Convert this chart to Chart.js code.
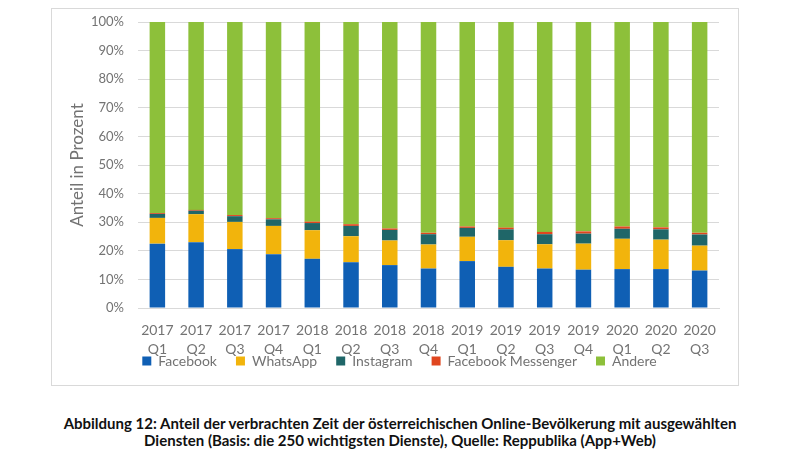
<!DOCTYPE html>
<html>
<head>
<meta charset="utf-8">
<script src="https://cdn.jsdelivr.net/npm/chart.js@4"></script>
<style>
    body { margin: 0; background: #fff; width: 800px; height: 452px; position: relative; overflow: hidden; }
    #box { position: absolute; left: 51px; top: 8px; width: 688px; height: 378px; border: 1px solid #d9d9d9; box-sizing: border-box; }
    #caption { position: absolute; left: 0; top: 415px; width: 800px; text-align: center;
        font-family: Lato, sans-serif; font-weight: bold; font-size: 15px; line-height: 17px; color: #111; }
</style>
</head>
<body>
<div id="box"><canvas id="chart" width="686" height="376"></canvas></div>
<div id="caption">Abbildung 12: Anteil der verbrachten Zeit der österreichischen Online-Bevölkerung mit ausgewählten<br>Diensten (Basis: die 250 wichtigsten Dienste), Quelle: Reppublika (App+Web)</div>

<script>
// ================= DATA =================
const years = ['2017', '2017', '2017', '2017', '2018', '2018', '2018', '2018', '2019', '2019', '2019', '2019', '2020', '2020', '2020'];
const quarters = ['Q1', 'Q2', 'Q3', 'Q4', 'Q1', 'Q2', 'Q3', 'Q4', 'Q1', 'Q2', 'Q3', 'Q4', 'Q1', 'Q2', 'Q3'];

const facebook  = [22.5, 23.0, 20.6, 18.8, 17.2, 16.0, 15.0, 13.8, 16.4, 14.4, 13.8, 13.4, 13.6, 13.6, 13.1];
const whatsapp  = [9.0, 9.8, 9.5, 9.9, 10.0, 9.1, 8.6, 8.4, 8.5, 9.3, 8.5, 9.1, 10.6, 10.3, 8.7];
const instagram = [1.4, 1.2, 2.0, 2.3, 2.5, 3.6, 3.7, 3.6, 3.1, 3.8, 3.5, 3.5, 3.5, 3.6, 3.9];
const messenger = [0.3, 0.3, 0.4, 0.4, 0.5, 0.6, 0.5, 0.5, 0.5, 0.6, 0.8, 0.8, 0.8, 0.7, 0.6];
const andere    = [66.8, 65.7, 67.5, 68.6, 69.8, 70.7, 72.2, 73.7, 71.5, 71.9, 73.4, 73.2, 71.5, 71.8, 73.7];

const yTicks = [0, 10, 20, 30, 40, 50, 60, 70, 80, 90, 100];

// ================= CHART =================
const gray = '#737373';
const labels = years.map((y, i) => [y, quarters[i]]);

const series = [
    { label: 'Facebook', data: facebook, color: '#0f5fb4' },
    { label: 'WhatsApp', data: whatsapp, color: '#f2b40c' },
    { label: 'Instagram', data: instagram, color: '#1f6668' },
    { label: 'Facebook Messenger', data: messenger, color: '#e0461f' },
    { label: 'Andere', data: andere, color: '#8dc03a' }
];

// legend sits tight under the axis labels, like in the original
const legendUp = {
    id: 'legendUp',
    afterLayout(chart) {
        const lg = chart.legend;
        const up = 23, right = 14;
        lg.top -= up;
        lg.left += right;
        lg.right += right;
        (lg.legendHitBoxes || []).forEach(b => { b.top -= up; b.left += right; });
    }
};

new Chart(document.getElementById('chart'), {
    type: 'bar',
    data: {
        labels: labels,
        datasets: series.map(s => ({
            label: s.label,
            data: s.data,
            backgroundColor: s.color,
            borderWidth: 0,
            barPercentage: 0.4,
            categoryPercentage: 1.0
        }))
    },
    plugins: [legendUp],
    options: {
        responsive: false,
        animation: false,
        layout: { padding: { top: 13, right: 19, bottom: 0, left: 0 } },
        plugins: {
            tooltip: { enabled: false },
            legend: {
                position: 'bottom',
                maxHeight: 27,
                labels: {
                    color: gray,
                    font: { family: 'Lato', size: 14 },
                    boxWidth: 9,
                    boxHeight: 9,
                    padding: 19
                }
            }
        },
        scales: {
            x: {
                stacked: true,
                afterFit: (scale) => { scale.height = 50; },
                grid: { display: false },
                border: { color: '#d9d9d9' },
                ticks: {
                    color: gray,
                    font: { family: 'Lato', size: 14, lineHeight: 1.35 },
                    maxRotation: 0,
                    padding: 5
                }
            },
            y: {
                stacked: true,
                min: 0,
                max: 100,
                afterFit: (scale) => {
                    scale.width = 86;
                    scale.paddingTop = 0;
                    scale.paddingBottom = 0;
                },
                afterBuildTicks: (scale) => { scale.ticks = yTicks.map(v => ({ value: v })); },
                grid: { color: '#d9d9d9', drawTicks: false },
                border: { display: false },
                ticks: {
                    color: gray,
                    font: { family: 'Lato', size: 13 },
                    padding: 14,
                    callback: v => v + '%'
                },
                title: {
                    display: true,
                    text: 'Anteil in Prozent',
                    color: gray,
                    font: { family: 'Lato', size: 17 },
                    padding: { top: 15, bottom: 0 }
                }
            }
        }
    }
});
</script>
</body>
</html>
